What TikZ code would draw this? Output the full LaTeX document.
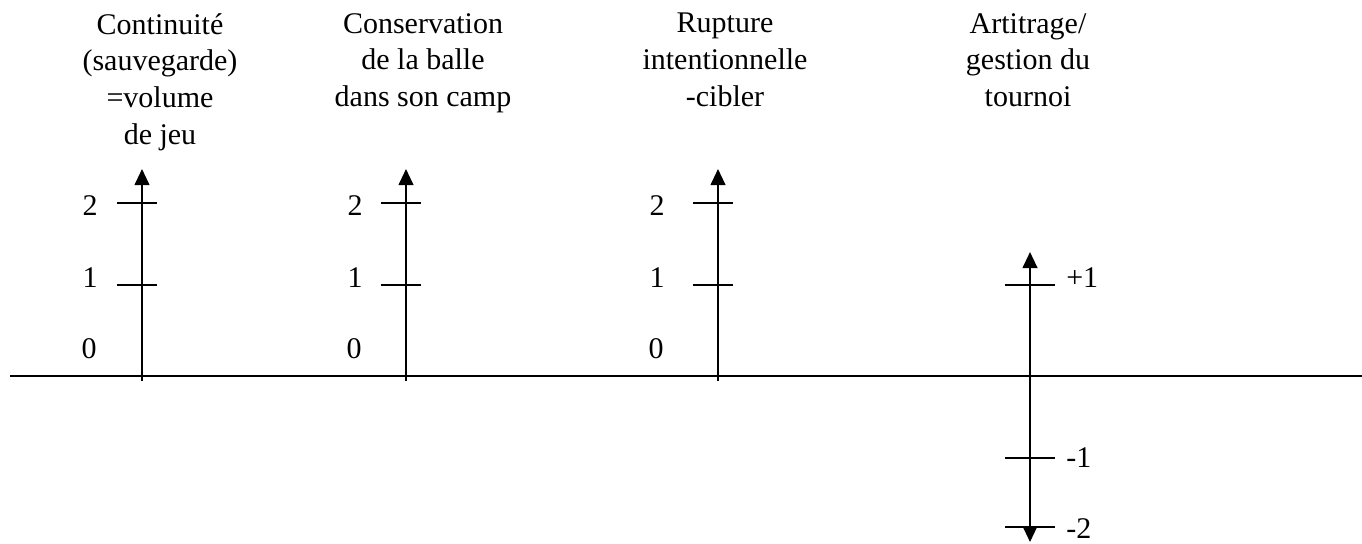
\documentclass[tikz,border=0pt]{standalone}
\usepackage{fontspec}
\setmainfont{Liberation Serif}
\usetikzlibrary{arrows.meta}
\begin{document}
\begin{tikzpicture}[x=0.75pt,y=-0.75pt,
  axisline/.style={line width=1.5pt,-{Triangle[width=11pt,length=12pt]}},
  ticka/.style={line width=1.5pt},
  lab/.style={font=\fontsize{22.5}{27.5}\selectfont, inner sep=0pt},
  title/.style={lab, align=center, anchor=north},
  num/.style={lab, anchor=base},
  numr/.style={lab, anchor=base west}]
\useasboundingbox (0,0) rectangle (1362,543);
% horizontal axis
\coordinate (hl) at (10,376);
\coordinate (hr) at (1362,376);
\draw[ticka] (hl) -- (hr);
% titles
\node[title] (t1) at (160,13) {Continuité\\(sauvegarde)\\=volume\\de jeu};
\node[title] (t2) at (423,13) {Conservation\\de la balle\\dans son camp};
\node[title] (t3) at (725,13) {Rupture\\intentionnelle\\-cibler};
\node[title] (t4) at (1028,13) {Artitrage/\\gestion du\\tournoi};
% three positive axes
\foreach \n/\x/\lx in {a/142/90,b/406/355,c/718/657}{
  \coordinate (\n bot) at (\x,381);
  \coordinate (\n top) at (\x,169);
  \draw[axisline] (\n bot) -- (\n top);
  \coordinate (\n1l) at (\x-25,285);
  \coordinate (\n1r) at (\x+15,285);
  \coordinate (\n2l) at (\x-25,203);
  \coordinate (\n2r) at (\x+15,203);
  \draw[ticka] (\n1l) -- (\n1r);
  \draw[ticka] (\n2l) -- (\n2r);
  \node[num] (\n l2) at (\lx,215) {2};
  \node[num] (\n l1) at (\lx,287) {1};
  \node[num] (\n l0) at (\lx-1,358) {0};
}
% fourth axis
\coordinate (dtop) at (1030,252);
\coordinate (dbot) at (1030,542);
\draw[ticka,{Triangle[width=11pt,length=12pt]}-{Triangle[width=11pt,length=12pt]}] (dbot) -- (dtop);
\coordinate (dp1l) at (1005,285); \coordinate (dp1r) at (1055,285);
\coordinate (dm1l) at (1005,458); \coordinate (dm1r) at (1055,458);
\coordinate (dm2l) at (1005,527); \coordinate (dm2r) at (1055,527);
\draw[ticka] (dp1l) -- (dp1r);
\draw[ticka] (dm1l) -- (dm1r);
\draw[ticka] (dm2l) -- (dm2r);
\node[numr] (dlp1) at (1066,287) {+1};
\node[numr] (dlm1) at (1066,467) {-1};
\node[numr] (dlm2) at (1066,538) {-2};
\end{tikzpicture}
\end{document}
